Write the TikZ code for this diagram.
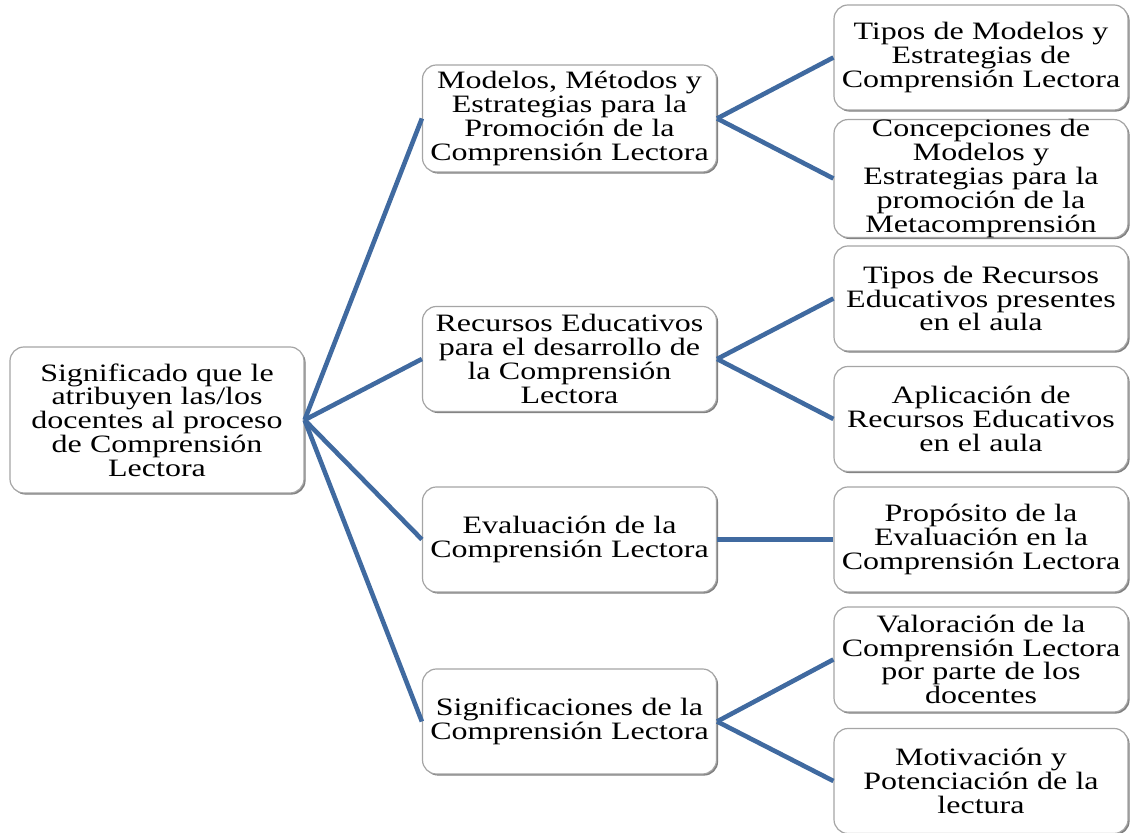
\documentclass[tikz,border=0pt]{standalone}
\usepackage{fontspec}
\setmainfont{Liberation Serif}[FakeStretch=1.28]
\usetikzlibrary{shadows}
\definecolor{linkblue}{RGB}{64,106,160}
\definecolor{boxline}{RGB}{165,165,165}
\begin{document}
\begin{tikzpicture}[x=0.5pt,y=-0.5pt,
  box/.style={draw=boxline, line width=0.6pt, rounded corners=7pt, fill=white,
    align=center, font=\fontsize{12.5}{11.9}\selectfont, inner sep=0pt,
    text width=142pt, minimum width=147pt, minimum height=52.5pt,
    drop shadow={shadow xshift=0.8pt, shadow yshift=-0.8pt, fill=black!50, opacity=1}},
  link/.style={draw=linkblue, line width=2.3pt}]
\useasboundingbox (0,0) rectangle (1132,833);

\node[box, minimum height=73pt] (root) at (157,420) {Significado que le\\atribuyen las/los\\docentes al proceso\\de Comprensión\\Lectora};

\node[box, minimum height=53.5pt] (m1) at (569.5,118.5) {Modelos, Métodos y\\Estrategias para la\\Promoción de la\\Comprensión Lectora};
\node[box] (m2) at (569.5,359) {Recursos Educativos\\para el desarrollo de\\la Comprensión\\Lectora};
\node[box] (m3) at (569.5,539.5) {Evaluación de la\\Comprensión Lectora};
\node[box] (m4) at (569.5,721.5) {Significaciones de la\\Comprensión Lectora};

\node[box] (l1) at (981,57.5) {Tipos de Modelos y\\Estrategias de\\Comprensión Lectora};
\node[box, minimum height=53.5pt] (l2) at (981,178.5) {Concepciones de\\Modelos y\\Estrategias para la\\promoción de la\\Metacomprensión};
\node[box] (l3) at (981,298.5) {Tipos de Recursos\\Educativos presentes\\en el aula};
\node[box] (l4) at (981,419) {Aplicación de\\Recursos Educativos\\en el aula};
\node[box] (l5) at (981,539.5) {Propósito de la\\Evaluación en la\\Comprensión Lectora};
\node[box] (l6) at (981,659.5) {Valoración de la\\Comprensión Lectora\\por parte de los\\docentes};
\node[box] (l7) at (981,781) {Motivación y\\Potenciación de la\\lectura};

\draw[link] (root.east) -- (m1.west);
\draw[link] (root.east) -- (m2.west);
\draw[link] (root.east) -- (m3.west);
\draw[link] (root.east) -- (m4.west);
\draw[link] (m1.east) -- (l1.west);
\draw[link] (m1.east) -- (l2.west);
\draw[link] (m2.east) -- (l3.west);
\draw[link] (m2.east) -- (l4.west);
\draw[link] (m3.east) -- (l5.west);
\draw[link] (m4.east) -- (l6.west);
\draw[link] (m4.east) -- (l7.west);
\end{tikzpicture}
\end{document}
